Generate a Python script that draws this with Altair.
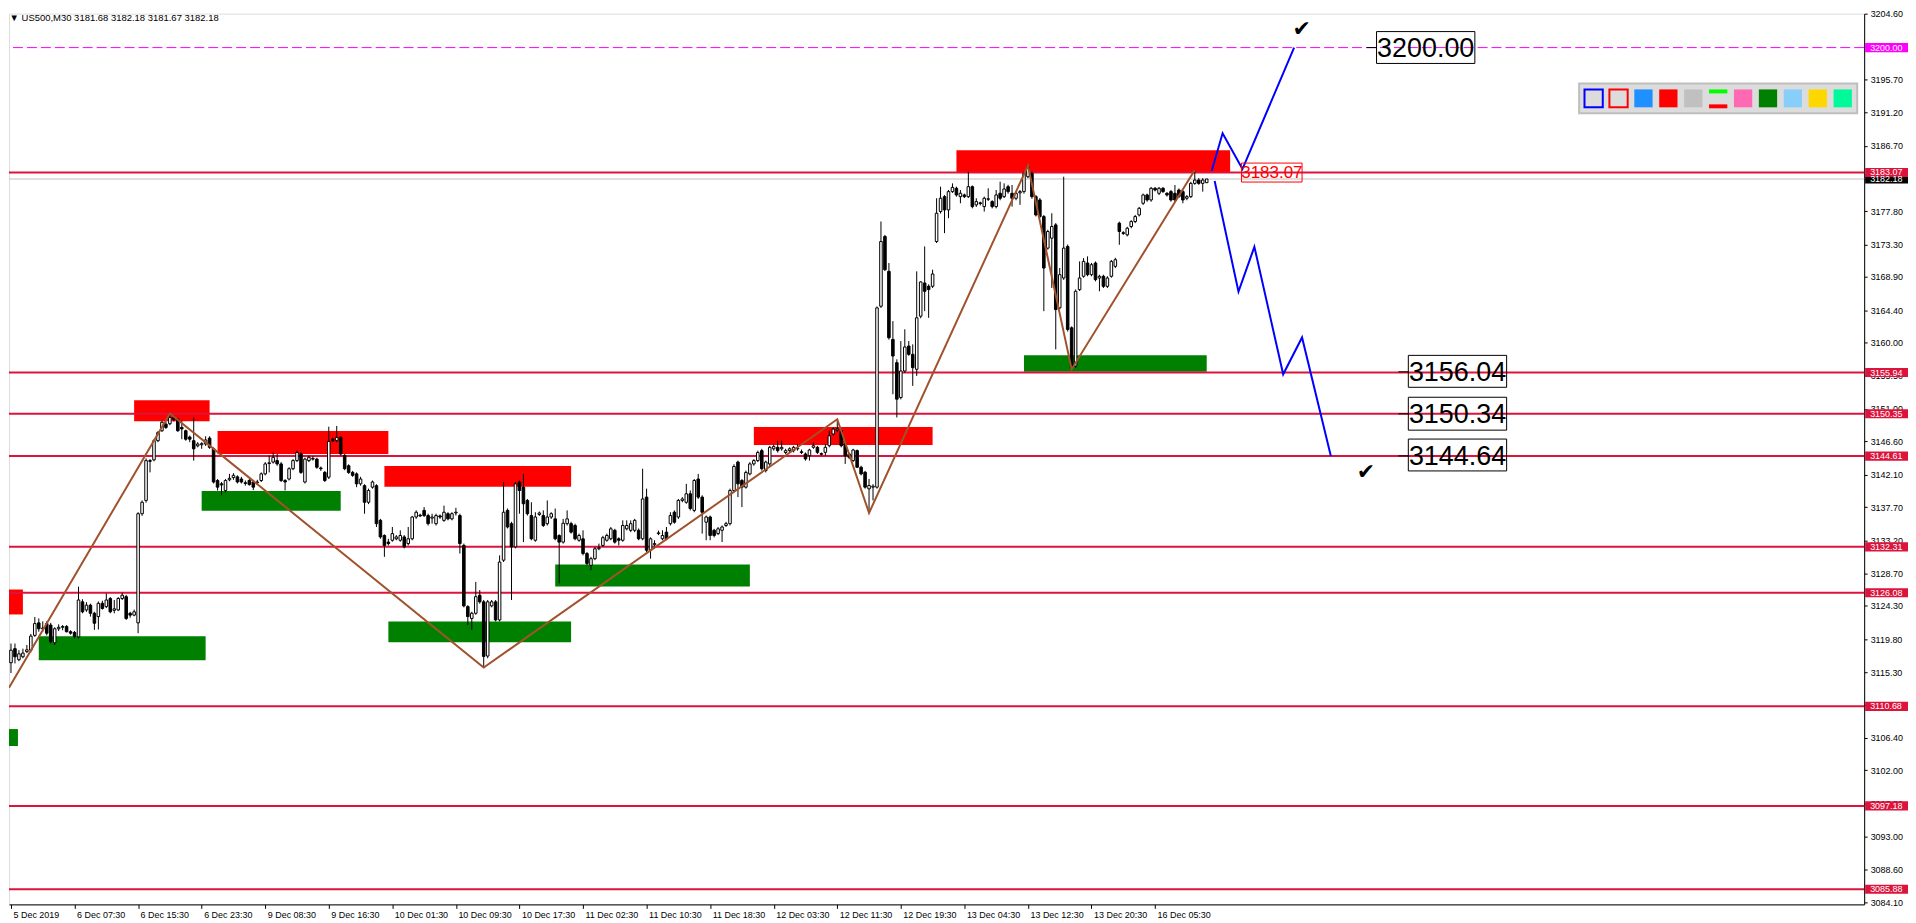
import altair as alt
import pandas as pd

W, H = 1862, 894
X_DOM = [-0.5, 466.5]
Y_DOM = [3083.83, 3204.6]
FONT = "Liberation Sans"

# ---------------- candle data (bar index 0..301, M30) ----------------
bar_open = [
    3116.6, 3118.5, 3117.0, 3117.4, 3118.1, 3118.3, 3120.3, 3122.0, 3121.2, 3121.9,
    3121.7, 3119.3, 3121.2, 3121.4, 3121.5, 3120.8, 3120.7, 3120.1, 3124.85, 3123.75,
    3124.4, 3123.3, 3122.85, 3124.65, 3124.2, 3125.3, 3123.7, 3123.75, 3125.3, 3125.55,
    3123.3, 3123.05, 3122.0, 3136.8, 3138.6, 3144.0, 3144.1, 3146.7, 3148.05, 3148.95,
    3149.0, 3149.85, 3149.6, 3148.5, 3148.05, 3147.2, 3146.7, 3146.0, 3146.15, 3146.25,
    3147.05, 3145.6, 3141.3, 3140.85, 3139.95, 3141.4, 3141.7, 3141.8, 3141.5, 3141.0,
    3141.3, 3141.1, 3141.0, 3141.3, 3142.2, 3143.6, 3143.8, 3144.0, 3143.55, 3141.3,
    3141.5, 3142.9, 3144.0, 3144.9, 3141.1, 3144.0, 3144.2, 3144.2, 3143.0, 3142.4,
    3141.75, 3146.9, 3146.7, 3147.15, 3144.7, 3143.3, 3142.4, 3142.2, 3140.85, 3140.6,
    3138.35, 3140.4, 3140.6, 3135.9, 3133.85, 3132.95, 3133.2, 3133.4, 3133.2, 3133.65,
    3132.75, 3133.4, 3136.35, 3136.6, 3137.25, 3136.55, 3136.2, 3135.45, 3136.5, 3135.9,
    3136.8, 3136.1, 3136.9, 3136.55, 3132.5, 3124.2, 3122.6, 3123.3, 3125.75, 3124.85,
    3117.5, 3124.3, 3124.85, 3122.4, 3130.5, 3137.25, 3135.45, 3132.3, 3141.1, 3140.4,
    3138.6, 3136.55, 3133.2, 3136.7, 3136.55, 3135.45, 3136.35, 3136.1, 3133.85, 3132.95,
    3135.45, 3135.45, 3135.2, 3133.2, 3133.4, 3131.4, 3129.8, 3130.7, 3132.05, 3132.5,
    3133.2, 3133.4, 3134.55, 3133.4, 3133.2, 3134.75, 3134.55, 3134.55, 3134.55, 3133.4,
    3139.05, 3131.85, 3132.6, 3134.1, 3133.4, 3134.3, 3135.45, 3137.0, 3136.35, 3138.6,
    3138.35, 3139.5, 3137.25, 3141.5, 3139.05, 3135.65, 3136.35, 3134.55, 3134.1, 3134.55,
    3135.2, 3135.45, 3139.95, 3143.8, 3141.3, 3140.4, 3142.2, 3143.55, 3144.0, 3145.35,
    3142.65, 3143.55, 3145.6, 3145.8, 3145.6, 3145.1, 3145.35, 3145.35, 3145.6, 3145.2,
    3144.9, 3144.67, 3145.8, 3145.8, 3144.95, 3145.12, 3146.02, 3147.6, 3148.14, 3148.05,
    3146.25, 3144.9, 3144.0, 3145.35, 3143.1, 3142.42, 3140.17, 3140.4, 3140.4, 3164.93,
    3174.39, 3169.66, 3160.43, 3157.28, 3152.55, 3156.15, 3159.53, 3158.41, 3156.38, 3163.58,
    3168.08, 3167.64, 3167.64, 3173.71, 3177.77, 3179.79, 3177.99, 3180.47, 3180.92, 3179.79,
    3180.02, 3179.79, 3181.14, 3178.67, 3178.95, 3178.44, 3179.43, 3179.12, 3178.44, 3180.25,
    3179.79, 3181.14, 3180.24, 3179.57, 3180.3, 3180.47, 3182.49, 3182.94, 3179.79, 3179.34,
    3177.09, 3172.81, 3174.16, 3175.96, 3164.71, 3168.76, 3173.04, 3162.01, 3156.83, 3167.18,
    3168.99, 3170.79, 3169.21, 3170.79, 3168.76, 3168.99, 3167.63, 3168.99, 3170.34, 3176.19,
    3174.9, 3174.61, 3175.74, 3176.41, 3177.31, 3178.89, 3180.02, 3179.34, 3180.92, 3180.24,
    3180.92, 3180.24, 3180.47, 3180.24, 3180.69, 3180.47, 3179.57, 3179.79, 3181.59, 3182.04,
    3181.59, 3181.68,
]
bar_close = [
    3118.3, 3117.4, 3117.8, 3117.9, 3118.35, 3120.2, 3121.9, 3121.2, 3121.3, 3120.6,
    3119.45, 3121.2, 3121.4, 3121.5, 3120.8, 3120.6, 3120.15, 3125.1, 3123.5, 3124.4,
    3123.3, 3121.95, 3124.65, 3123.95, 3125.1, 3123.5, 3123.9, 3125.3, 3125.75, 3122.6,
    3123.05, 3123.5, 3136.8, 3138.35, 3144.0, 3143.9, 3146.7, 3147.8, 3149.2, 3148.5,
    3149.85, 3149.6, 3148.05, 3148.3, 3146.9, 3146.9, 3145.6, 3146.25, 3146.3, 3146.8,
    3145.8, 3141.1, 3140.4, 3140.7, 3141.3, 3141.6, 3142.0, 3141.1, 3141.1, 3140.9,
    3140.75, 3140.4, 3141.1, 3142.2, 3143.55, 3143.7, 3144.45, 3143.55, 3141.3, 3141.1,
    3142.9, 3144.0, 3145.1, 3142.4, 3144.2, 3144.45, 3144.3, 3143.1, 3142.9, 3141.3,
    3146.6, 3146.7, 3147.15, 3144.9, 3142.9, 3142.4, 3142.0, 3140.85, 3141.5, 3138.35,
    3139.95, 3141.1, 3135.45, 3133.65, 3132.5, 3132.75, 3134.1, 3133.65, 3133.85, 3132.3,
    3133.4, 3136.35, 3137.0, 3136.5, 3136.55, 3135.45, 3136.35, 3136.55, 3136.35, 3137.0,
    3136.1, 3136.8, 3137.0, 3132.75, 3124.3, 3122.85, 3123.3, 3125.55, 3124.85, 3117.45,
    3124.85, 3124.85, 3122.4, 3130.25, 3137.0, 3135.0, 3132.3, 3140.85, 3139.95, 3138.15,
    3136.8, 3133.4, 3136.35, 3136.9, 3135.2, 3136.35, 3136.8, 3133.4, 3132.95, 3135.5,
    3136.1, 3134.3, 3133.4, 3133.85, 3131.4, 3130.05, 3130.7, 3132.05, 3132.2, 3133.55,
    3133.85, 3134.75, 3132.95, 3133.2, 3135.2, 3135.2, 3135.45, 3135.9, 3133.4, 3138.8,
    3131.85, 3133.4, 3132.75, 3134.2, 3133.85, 3133.4, 3136.55, 3135.65, 3138.6, 3138.8,
    3139.5, 3137.5, 3141.3, 3139.05, 3137.0, 3136.35, 3133.85, 3133.85, 3134.75, 3135.0,
    3135.45, 3139.95, 3143.2, 3140.85, 3140.4, 3142.4, 3143.55, 3144.0, 3145.1, 3142.9,
    3143.8, 3145.8, 3145.9, 3145.35, 3145.8, 3145.35, 3145.6, 3145.8, 3145.7, 3145.1,
    3144.22, 3145.44, 3146.02, 3145.12, 3144.85, 3145.8, 3147.37, 3148.27, 3148.3, 3146.02,
    3144.67, 3144.45, 3145.44, 3143.1, 3142.2, 3140.4, 3140.62, 3140.53, 3164.71, 3173.71,
    3169.89, 3160.66, 3158.18, 3152.33, 3156.15, 3159.4, 3158.41, 3156.6, 3163.36, 3168.22,
    3166.96, 3167.19, 3169.3, 3177.54, 3179.57, 3177.99, 3180.47, 3181.05, 3180.02, 3180.25,
    3179.79, 3181.14, 3178.44, 3179.12, 3178.85, 3179.57, 3179.5, 3178.44, 3180.02, 3179.57,
    3180.83, 3180.47, 3179.57, 3180.24, 3180.47, 3182.94, 3183.84, 3179.79, 3177.31, 3177.09,
    3170.11, 3175.06, 3175.74, 3164.48, 3169.21, 3172.81, 3161.78, 3156.6, 3166.96, 3168.76,
    3171.01, 3169.21, 3170.56, 3168.54, 3168.99, 3167.63, 3168.76, 3171.01, 3171.24, 3175.06,
    3174.8, 3175.51, 3176.41, 3177.09, 3178.21, 3180.02, 3179.34, 3180.92, 3180.69, 3180.92,
    3180.47, 3180.02, 3179.34, 3179.34, 3179.79, 3179.34, 3179.79, 3181.59, 3182.04, 3181.59,
    3182.04, 3182.18,
]
bar_high = [
    3119.2, 3119.2, 3118.3, 3118.5, 3119.0, 3120.5, 3122.8, 3122.6, 3122.2, 3122.2,
    3122.0, 3121.4, 3121.8, 3121.7, 3121.7, 3121.0, 3120.9, 3126.9, 3125.2, 3124.8,
    3124.6, 3123.5, 3124.9, 3125.0, 3126.0, 3125.5, 3125.1, 3125.5, 3126.1, 3125.8,
    3123.5, 3123.8, 3137.0, 3138.6, 3144.3, 3144.2, 3146.9, 3148.0, 3149.4, 3149.3,
    3150.4, 3150.1, 3149.8, 3149.4, 3148.2, 3147.4, 3149.85, 3146.5, 3146.5, 3147.3,
    3147.3, 3145.8, 3141.5, 3141.1, 3141.5, 3142.2, 3142.3, 3142.0, 3141.8, 3141.3,
    3141.5, 3141.3, 3141.4, 3142.4, 3143.8, 3144.7, 3145.1, 3144.9, 3143.8, 3141.5,
    3143.1, 3144.2, 3145.35, 3145.1, 3144.4, 3144.7, 3144.6, 3144.4, 3143.2, 3142.6,
    3148.6, 3147.1, 3148.7, 3147.3, 3144.9, 3143.5, 3142.6, 3142.4, 3141.8, 3140.8,
    3140.2, 3141.3, 3140.8, 3136.1, 3134.0, 3133.4, 3135.0, 3133.9, 3134.55, 3133.9,
    3135.0, 3136.5, 3137.25, 3136.8, 3137.7, 3136.8, 3136.8, 3136.8, 3136.7, 3137.9,
    3137.0, 3137.0, 3137.6, 3136.8, 3132.75, 3124.4, 3123.5, 3127.55, 3126.45, 3125.1,
    3125.1, 3125.1, 3125.1, 3131.15, 3141.1, 3137.5, 3135.7, 3141.1, 3141.3, 3142.2,
    3138.8, 3138.35, 3137.0, 3137.1, 3137.25, 3138.6, 3137.0, 3137.5, 3134.0, 3136.1,
    3137.25, 3135.7, 3135.45, 3134.1, 3134.55, 3131.6, 3130.95, 3132.3, 3132.75, 3133.8,
    3134.1, 3135.0, 3134.75, 3133.6, 3135.9, 3135.9, 3135.9, 3136.1, 3134.8, 3142.9,
    3140.2, 3133.6, 3133.2, 3134.5, 3134.55, 3135.0, 3137.0, 3137.25, 3138.8, 3139.05,
    3140.85, 3139.95, 3141.5, 3142.2, 3139.3, 3136.55, 3136.55, 3134.75, 3135.0, 3135.2,
    3135.7, 3140.2, 3143.5, 3144.0, 3141.5, 3142.65, 3143.8, 3144.2, 3145.35, 3145.6,
    3144.0, 3146.0, 3146.15, 3146.7, 3146.7, 3145.6, 3145.8, 3146.0, 3146.25, 3145.5,
    3145.1, 3145.6, 3146.47, 3146.0, 3145.1, 3146.25, 3148.05, 3148.5, 3149.6, 3148.3,
    3146.5, 3145.1, 3145.6, 3145.5, 3143.3, 3142.6, 3141.52, 3140.8, 3164.9, 3176.42,
    3174.6, 3170.79, 3162.91, 3157.73, 3160.21, 3161.8, 3160.21, 3159.76, 3169.66, 3168.31,
    3173.04, 3167.9, 3169.89, 3179.57, 3181.14, 3180.0, 3180.7, 3181.59, 3181.14, 3180.69,
    3180.2, 3183.17, 3181.3, 3179.57, 3179.1, 3179.8, 3180.92, 3179.3, 3180.69, 3181.82,
    3181.59, 3181.4, 3181.37, 3180.5, 3180.7, 3183.2, 3184.0, 3183.2, 3180.0, 3179.6,
    3177.3, 3175.3, 3177.54, 3176.2, 3170.11, 3182.49, 3173.3, 3162.2, 3167.2, 3171.01,
    3171.46, 3171.69, 3170.8, 3171.0, 3169.2, 3169.2, 3169.0, 3171.2, 3171.5, 3176.4,
    3175.1, 3175.7, 3176.6, 3177.31, 3178.4, 3180.2, 3180.2, 3181.1, 3181.1, 3181.1,
    3181.1, 3180.4, 3180.7, 3181.37, 3180.9, 3180.7, 3180.0, 3181.8, 3183.39, 3182.3,
    3182.3, 3182.18,
]
bar_low = [
    3115.2, 3116.5, 3116.8, 3117.2, 3117.9, 3118.0, 3120.1, 3120.8, 3120.8, 3120.3,
    3119.2, 3119.0, 3120.9, 3121.0, 3120.7, 3120.4, 3119.9, 3119.9, 3123.3, 3123.5,
    3122.85, 3121.05, 3121.1, 3123.8, 3124.0, 3123.3, 3123.3, 3123.6, 3125.1, 3122.4,
    3122.7, 3122.9, 3120.6, 3136.5, 3138.3, 3142.4, 3143.9, 3146.5, 3147.9, 3148.3,
    3148.8, 3149.3, 3147.9, 3146.9, 3146.7, 3146.5, 3144.0, 3145.8, 3145.6, 3146.0,
    3145.6, 3140.9, 3139.95, 3139.3, 3139.7, 3141.2, 3141.4, 3140.9, 3140.9, 3140.6,
    3140.6, 3140.0, 3140.7, 3141.1, 3142.0, 3142.4, 3143.6, 3143.3, 3141.1, 3139.95,
    3141.3, 3142.7, 3143.8, 3142.2, 3140.9, 3143.8, 3144.0, 3142.9, 3142.6, 3141.1,
    3141.5, 3146.5, 3146.5, 3144.7, 3142.7, 3142.2, 3141.8, 3140.4, 3140.6, 3136.8,
    3138.1, 3140.2, 3135.0, 3133.4, 3130.95, 3132.5, 3133.0, 3133.2, 3133.0, 3132.1,
    3132.5, 3133.2, 3136.1, 3136.35, 3136.35, 3135.2, 3135.45, 3135.2, 3136.1, 3135.7,
    3135.9, 3135.9, 3136.55, 3131.4, 3124.1, 3121.7, 3121.05, 3123.1, 3124.6, 3115.95,
    3117.2, 3124.1, 3122.2, 3122.2, 3130.25, 3134.8, 3125.1, 3132.1, 3136.8, 3132.95,
    3136.55, 3133.2, 3133.0, 3136.5, 3135.0, 3135.2, 3136.1, 3133.2, 3127.35, 3132.75,
    3135.2, 3134.1, 3133.2, 3133.0, 3131.15, 3129.8, 3129.15, 3130.5, 3131.85, 3132.3,
    3133.0, 3133.2, 3132.75, 3132.5, 3133.0, 3134.55, 3134.3, 3134.3, 3133.2, 3133.2,
    3131.6, 3130.7, 3132.05, 3133.9, 3133.2, 3133.2, 3135.2, 3135.45, 3136.1, 3138.35,
    3138.15, 3137.25, 3137.0, 3138.8, 3134.1, 3133.2, 3133.2, 3133.6, 3133.9, 3132.95,
    3135.0, 3135.2, 3139.7, 3139.05, 3137.7, 3140.2, 3142.0, 3143.3, 3143.8, 3142.65,
    3142.4, 3143.3, 3145.35, 3145.1, 3145.35, 3144.9, 3145.1, 3145.1, 3145.35, 3144.9,
    3144.0, 3144.0, 3145.6, 3144.9, 3144.7, 3144.67, 3145.8, 3147.4, 3147.9, 3145.8,
    3143.55, 3144.2, 3143.8, 3143.0, 3142.0, 3140.2, 3137.3, 3138.6, 3140.2, 3164.7,
    3169.7, 3160.4, 3153.0, 3149.85, 3152.3, 3155.9, 3158.2, 3154.13, 3155.48, 3163.3,
    3164.26, 3163.36, 3167.4, 3173.5, 3177.5, 3174.84, 3176.87, 3180.3, 3179.8, 3178.89,
    3179.6, 3179.6, 3178.2, 3178.4, 3178.6, 3177.77, 3179.2, 3178.2, 3178.2, 3179.3,
    3179.6, 3180.2, 3178.44, 3179.3, 3178.67, 3180.2, 3182.3, 3179.5, 3177.1, 3176.9,
    3164.26, 3172.6, 3167.41, 3159.08, 3164.5, 3168.5, 3161.5, 3156.4, 3156.6, 3167.0,
    3168.8, 3169.0, 3169.0, 3168.3, 3166.96, 3167.4, 3167.4, 3168.8, 3170.1, 3173.26,
    3174.6, 3174.4, 3175.5, 3176.2, 3177.1, 3178.67, 3179.1, 3179.1, 3180.5, 3180.0,
    3180.3, 3179.8, 3179.1, 3179.1, 3179.6, 3178.89, 3179.3, 3179.6, 3181.4, 3181.4,
    3180.47, 3181.67,
]

# ---------------- time axis ----------------
time_labels = ["5 Dec 2019", "6 Dec 07:30", "6 Dec 15:30", "6 Dec 23:30", "9 Dec 08:30",
               "9 Dec 16:30", "10 Dec 01:30", "10 Dec 09:30", "10 Dec 17:30", "11 Dec 02:30",
               "11 Dec 10:30", "11 Dec 18:30", "12 Dec 03:30", "12 Dec 11:30", "12 Dec 19:30",
               "13 Dec 04:30", "13 Dec 12:30", "13 Dec 20:30", "16 Dec 05:30"]
bars_per_label = 16

# ---------------- price axis ticks ----------------
price_ticks = [3204.60, 3200.10, 3195.70, 3191.20, 3186.70, 3182.20, 3177.80, 3173.30,
               3168.90, 3164.40, 3160.00, 3155.50, 3151.00, 3146.60, 3142.10, 3137.70,
               3133.20, 3128.70, 3124.30, 3119.80, 3115.30, 3110.90, 3106.40, 3102.00,
               3097.50, 3093.00, 3088.60, 3084.10]

# ---------------- horizontal levels ----------------
red_levels = [3183.07, 3155.94, 3150.35, 3144.61, 3132.31, 3126.08, 3110.68, 3097.18, 3085.88]
target_level = 3200.00
bid_price = 3182.18

# ---------------- supply / demand zones ----------------
zone_start = [31, 52, -0.5, 94, 187, 238, 7, 48, 95, 137, 255, -0.5]
zone_end = [50, 95, 3, 141, 232, 306.9, 49, 83, 141, 186, 301, 1.75]
zone_top = [3152.18, 3148.0, 3126.52, 3143.27, 3148.54, 3186.09,
            3120.17, 3139.89, 3122.2, 3129.9, 3158.3, 3107.6]
zone_bottom = [3149.35, 3144.9, 3123.14, 3140.44, 3146.11, 3183.12,
               3116.93, 3137.19, 3119.36, 3126.92, 3156.06, 3105.3]
zone_kind = ["supply"] * 6 + ["demand"] * 6

# ---------------- zigzag ----------------
zz_bar = [-0.5, 40, 119, 208, 216, 256, 267, 298]
zz_price = [3113.2, 3150.4, 3115.95, 3149.6, 3136.9, 3184.0, 3156.4, 3183.39]

# ---------------- projected paths ----------------
up_bar = [302.25, 305, 310, 323]
up_price = [3183.26, 3188.39, 3183.53, 3200.0]
down_bar = [303, 309, 313, 320.25, 325, 332.25]
down_price = [3181.9, 3166.91, 3172.99, 3155.7, 3160.7, 3144.62]

# ---------------- annotations ----------------
check_bar = [324.9, 341.1]
check_price = [3202.53, 3142.46]
big_text = ["3200.00", "3156.04", "3150.34", "3144.64"]
big_x0 = [343.75, 351.75, 351.75, 351.75]
big_x1 = [368.5, 376.5, 376.5, 376.5]
big_top = [3202.17, 3158.27, 3152.59, 3146.92]
big_bottom = [3197.85, 3153.94, 3148.13, 3142.6]
big_price = [3200.0, 3156.04, 3150.34, 3144.64]

swatch_fill = ["#DCDCDC", "#DCDCDC", "#1E90FF", "#FF0000", "#C0C0C0", "#DCDCDC",
               "#FF69B4", "#008000", "#87CEFA", "#FFD700", "#00FA9A"]
swatch_stroke = ["#0000FF", "#FF0000", None, None, None, None, None, None, None, None, None]

header = "\u25BC US500,M30  3181.68 3182.18 3181.67 3182.18"

# ============================================================
XS = alt.Scale(domain=X_DOM, nice=False, zero=False)
YS = alt.Scale(domain=Y_DOM, nice=False, zero=False)

label_expr = "[" + ",".join("'%s'" % t for t in time_labels) + "][round(datum.value/%d)]" % bars_per_label
XAX = alt.Axis(values=[bars_per_label * k for k in range(len(time_labels))], labelExpr=label_expr,
               title=None, grid=False, orient="bottom", labelAlign="left", labelOffset=2, labelPadding=2,
               tickSize=4, labelFont=FONT, labelFontSize=9, labelColor="black", tickColor="black",
               domainColor="black", labelOverlap=False, labelFlush=False)
YAX = alt.Axis(values=price_ticks, format=".2f", orient="right", title=None, grid=False,
               tickSize=3, labelPadding=3, labelFont=FONT, labelFontSize=9, labelColor="black",
               domainColor="black", tickColor="black", labelOverlap=False, labelFlush=False)


def X(f):
    return alt.X(f, type="quantitative", scale=XS, axis=XAX)


def Y(f):
    return alt.Y(f, type="quantitative", scale=YS, axis=YAX)


candles = pd.DataFrame({"i": list(range(len(bar_open))), "o": bar_open, "h": bar_high,
                        "l": bar_low, "c": bar_close})

zones_df = pd.DataFrame({"x0": zone_start, "x1": zone_end, "top": zone_top,
                         "bottom": zone_bottom, "kind": zone_kind})
zones = alt.Chart(zones_df).mark_rect().encode(
    x=X("x0"), x2="x1", y=Y("top"), y2="bottom",
    color=alt.Color("kind:N", scale=alt.Scale(domain=["supply", "demand"],
                                              range=["#FF0000", "#008000"]), legend=None))

hl = alt.Chart(pd.DataFrame({"p": red_levels})).mark_rule(color="#DC143C", strokeWidth=2).encode(y=Y("p"))
mag = alt.Chart(pd.DataFrame({"p": [target_level]})).mark_rule(
    color="#FF00FF", strokeWidth=1, strokeDash=[10, 4]).encode(y=Y("p"))
bid = alt.Chart(pd.DataFrame({"p": [bid_price]})).mark_rule(color="#C0C0C0", strokeWidth=1).encode(y=Y("p"))

wicks = alt.Chart(candles).mark_rule(color="black", strokeWidth=1).encode(x=X("i"), y=Y("l"), y2="h")
bodies = alt.Chart(candles).transform_calculate(
    x0="datum.i - 0.32", x1="datum.i + 0.32").mark_rect(stroke="black", strokeWidth=1).encode(
    x=X("x0"), x2="x1:Q", y=Y("o"), y2="c",
    fill=alt.condition("datum.c >= datum.o", alt.value("white"), alt.value("black")))

zz = alt.Chart(pd.DataFrame({"b": zz_bar, "p": zz_price, "k": list(range(len(zz_bar)))})).mark_line(
    color="#A0522D", strokeWidth=2, clip=True).encode(x=X("b"), y=Y("p"), order="k:Q")

blue_df = pd.DataFrame({
    "b": up_bar + down_bar, "p": up_price + down_price,
    "path": ["up"] * len(up_bar) + ["down"] * len(down_bar),
    "k": list(range(len(up_bar))) + list(range(len(down_bar)))})
blue = alt.Chart(blue_df).mark_line(color="#0000FF", strokeWidth=2, clip=True).encode(
    x=X("b"), y=Y("p"), detail="path:N", order="k:Q")

checks = alt.Chart(pd.DataFrame({"b": check_bar, "p": check_price, "t": ["\u2714", "\u2714"]})).mark_text(
    font="DejaVu Sans", fontSize=22, color="black", baseline="middle", align="center").encode(
    x=X("b"), y=Y("p"), text="t:N")

big_df = pd.DataFrame({"x0": big_x0, "x1": big_x1, "top": big_top, "bottom": big_bottom,
                       "p": big_price, "t": big_text})
big_df["xc"] = (big_df["x0"] + big_df["x1"]) / 2
big_df["d0"] = big_df["x0"] - 2.5
big_boxes = alt.Chart(big_df).mark_rect(fillOpacity=0, stroke="black", strokeWidth=1).encode(
    x=X("x0"), x2="x1", y=Y("top"), y2="bottom")
big_dash = alt.Chart(big_df).mark_rule(color="black", strokeWidth=1).encode(x=X("d0"), x2="x0", y=Y("p"))
big_texts = alt.Chart(big_df).mark_text(font=FONT, fontSize=27, color="black", baseline="middle",
                                        align="center", dy=1).encode(x=X("xc"), y=Y("p"), text="t:N")

small_df = pd.DataFrame({"x0": [309.75], "x1": [325.0], "top": [3184.34], "bottom": [3181.77],
                         "xc": [317.4], "p": [3183.05], "t": ["3183.07"]})
small_box = alt.Chart(small_df).mark_rect(fill="white", fillOpacity=0, stroke="#FF0000", strokeWidth=1).encode(
    x=X("x0"), x2="x1", y=Y("top"), y2="bottom")
small_text = alt.Chart(small_df).mark_text(font=FONT, fontSize=17, color="#FF0000", baseline="middle",
                                           align="center").encode(x=X("xc"), y=Y("p"), text="t:N")

# toolbar of colour swatches
panel = alt.Chart(pd.DataFrame({"x0": [394.75], "x1": [464.75], "top": [3195.14], "bottom": [3191.09]})).mark_rect(
    fill="#DCDCDC", stroke="#BEBEBE", strokeWidth=2).encode(x=X("x0"), x2="x1", y=Y("top"), y2="bottom")
sw_rows = []
for i, (f, s) in enumerate(zip(swatch_fill, swatch_stroke)):
    x0 = 396.1 + 6.27 * i
    sw_rows.append({"x0": x0, "x1": x0 + 4.6, "top": 3194.33, "bottom": 3191.9, "f": f,
                    "s": s if s else f, "w": 2 if s else 0})
sw_df = pd.DataFrame(sw_rows)
swatches = alt.Chart(sw_df).mark_rect().encode(
    x=X("x0"), x2="x1", y=Y("top"), y2="bottom",
    fill=alt.Fill("f:N", scale=None), stroke=alt.Stroke("s:N", scale=None),
    strokeWidth=alt.StrokeWidth("w:Q", scale=None))
x5 = 396.1 + 6.27 * 5
bars5 = alt.Chart(pd.DataFrame({"x0": [x5, x5], "x1": [x5 + 4.6, x5 + 4.6], "top": [3194.33, 3192.3],
                                "bottom": [3193.79, 3191.77], "f": ["#00FF00", "#FF0000"]})).mark_rect().encode(
    x=X("x0"), x2="x1", y=Y("top"), y2="bottom", fill=alt.Fill("f:N", scale=None))

title_txt = alt.Chart(pd.DataFrame({"b": [-0.35], "p": [3204.0], "t": [header]})).mark_text(
    font=FONT, fontSize=9.5, color="black", align="left", baseline="middle").encode(
    x=X("b"), y=Y("p"), text="t:N")

# right-axis price labels
lab_price = [target_level, bid_price] + red_levels
lab_fill = ["#FF00FF", "#000000"] + ["#DC143C"] * len(red_levels)
lab_df = pd.DataFrame({"p": lab_price, "f": lab_fill, "t": ["%.2f" % v for v in lab_price]})
lab_df["top"] = lab_df["p"] + 0.62
lab_df["bottom"] = lab_df["p"] - 0.62
lab_boxes = alt.Chart(lab_df).mark_rect().encode(
    x=alt.value(W + 1), x2=alt.value(W + 44), y=Y("top"), y2="bottom",
    fill=alt.Fill("f:N", scale=None))
lab_texts = alt.Chart(lab_df).mark_text(font=FONT, fontSize=9, color="white", align="left",
                                        baseline="middle").encode(
    x=alt.value(W + 6), y=Y("p"), text="t:N")

chart = alt.layer(
    zones, hl, mag, bid, wicks, bodies, zz, blue, checks,
    big_boxes, big_dash, big_texts, small_box, small_text,
    panel, swatches, bars5, title_txt, lab_boxes, lab_texts
).properties(width=W, height=H, padding=0).configure_view(
    stroke="black", strokeWidth=1).configure(background="white")

chart.save("out.html", embed_options={"renderer": "svg", "actions": False})
